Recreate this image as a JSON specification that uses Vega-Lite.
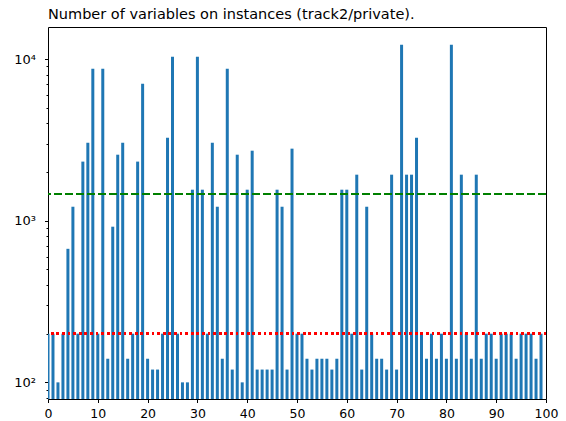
{
  "$schema": "https://vega.github.io/schema/vega-lite/v6.json",
  "width": 498,
  "height": 372,
  "autosize": {"type": "none"},
  "padding": {"left": 48, "top": 27, "right": 20, "bottom": 22},
  "background": "white",
  "title": {
    "text": "Number of variables on instances (track2/private).",
    "anchor": "start",
    "frame": "group",
    "font": "DejaVu Sans",
    "fontSize": 14.5,
    "fontWeight": "normal",
    "color": "#000000",
    "baseline": "alphabetic",
    "offset": -6.5
  },
  "config": {
    "view": {"stroke": "#000000", "strokeWidth": 1},
    "axis": {
      "labelFont": "DejaVu Sans",
      "labelFontSize": 12.5,
      "labelColor": "#000000",
      "tickColor": "#000000",
      "domain": false,
      "grid": false,
      "title": null
    }
  },
  "data": {
    "values": [
      {"i": 0, "v": 200}, {"i": 1, "v": 200}, {"i": 2, "v": 100}, {"i": 3, "v": 200}, {"i": 4, "v": 670},
      {"i": 5, "v": 1220}, {"i": 6, "v": 200}, {"i": 7, "v": 2320}, {"i": 8, "v": 3040}, {"i": 9, "v": 8720},
      {"i": 10, "v": 200}, {"i": 11, "v": 8720}, {"i": 12, "v": 140}, {"i": 13, "v": 918}, {"i": 14, "v": 2560},
      {"i": 15, "v": 3040}, {"i": 16, "v": 140}, {"i": 17, "v": 200}, {"i": 18, "v": 2320}, {"i": 19, "v": 7040},
      {"i": 20, "v": 140}, {"i": 21, "v": 120}, {"i": 22, "v": 120}, {"i": 23, "v": 200}, {"i": 24, "v": 3260},
      {"i": 25, "v": 10330}, {"i": 26, "v": 200}, {"i": 27, "v": 100}, {"i": 28, "v": 100}, {"i": 29, "v": 1555},
      {"i": 30, "v": 10330}, {"i": 31, "v": 1555}, {"i": 32, "v": 200}, {"i": 33, "v": 3040}, {"i": 34, "v": 1220},
      {"i": 35, "v": 140}, {"i": 36, "v": 8720}, {"i": 37, "v": 120}, {"i": 38, "v": 2560}, {"i": 39, "v": 100},
      {"i": 40, "v": 1555}, {"i": 41, "v": 2710}, {"i": 42, "v": 120}, {"i": 43, "v": 120}, {"i": 44, "v": 120},
      {"i": 45, "v": 120}, {"i": 46, "v": 1555}, {"i": 47, "v": 1220}, {"i": 48, "v": 120}, {"i": 49, "v": 2790},
      {"i": 50, "v": 200}, {"i": 51, "v": 200}, {"i": 52, "v": 140}, {"i": 53, "v": 120}, {"i": 54, "v": 140},
      {"i": 55, "v": 140}, {"i": 56, "v": 140}, {"i": 57, "v": 120}, {"i": 58, "v": 140}, {"i": 59, "v": 1555},
      {"i": 60, "v": 1555}, {"i": 61, "v": 200}, {"i": 62, "v": 1926}, {"i": 63, "v": 120}, {"i": 64, "v": 1220},
      {"i": 65, "v": 200}, {"i": 66, "v": 140}, {"i": 67, "v": 140}, {"i": 68, "v": 120}, {"i": 69, "v": 1926},
      {"i": 70, "v": 120}, {"i": 71, "v": 12270}, {"i": 72, "v": 1926}, {"i": 73, "v": 1926}, {"i": 74, "v": 3260},
      {"i": 75, "v": 200}, {"i": 76, "v": 140}, {"i": 77, "v": 200}, {"i": 78, "v": 140}, {"i": 79, "v": 200},
      {"i": 80, "v": 140}, {"i": 81, "v": 12270}, {"i": 82, "v": 140}, {"i": 83, "v": 1926}, {"i": 84, "v": 200},
      {"i": 85, "v": 140}, {"i": 86, "v": 1926}, {"i": 87, "v": 140}, {"i": 88, "v": 200}, {"i": 89, "v": 200},
      {"i": 90, "v": 140}, {"i": 91, "v": 200}, {"i": 92, "v": 200}, {"i": 93, "v": 200}, {"i": 94, "v": 140},
      {"i": 95, "v": 200}, {"i": 96, "v": 200}, {"i": 97, "v": 200}, {"i": 98, "v": 140}, {"i": 99, "v": 200}
    ]
  },
  "layer": [
    {
      "mark": {"type": "bar", "color": "#1f77b4", "size": 3, "clip": true},
      "encoding": {
        "x": {
          "field": "i",
          "type": "quantitative",
          "scale": {"domain": [0, 100], "nice": false, "zero": false, "padding": 0},
          "axis": {
            "values": [0, 10, 20, 30, 40, 50, 60, 70, 80, 90, 100],
            "tickSize": 3.5,
            "labelPadding": 4.5,
            "labelFlush": false,
            "labelOverlap": false
          }
        },
        "y": {
          "field": "v",
          "type": "quantitative",
          "scale": {"type": "log", "domain": [78.9, 15780], "nice": false},
          "axis": {
            "values": [80, 90, 100, 200, 300, 400, 500, 600, 700, 800, 900, 1000, 2000, 3000, 4000, 5000, 6000, 7000, 8000, 9000, 10000],
            "tickSize": {"condition": {"test": "datum.value == 100 || datum.value == 1000 || datum.value == 10000", "value": 3.5}, "value": 2},
            "labelExpr": "datum.value == 100 ? '10²' : datum.value == 1000 ? '10³' : datum.value == 10000 ? '10⁴' : ''",
            "labelFontSize": 13,
            "labelOverlap": false,
            "labelBound": false,
            "labelFlush": false,
            "labelPadding": 9
          }
        },
        "y2": {"datum": 78.9}
      }
    },
    {
      "mark": {"type": "rule", "color": "#008000", "strokeWidth": 1.8, "strokeDash": [8, 3]},
      "encoding": {"y": {"datum": 1462}}
    },
    {
      "mark": {"type": "rule", "color": "#ff0000", "strokeWidth": 1.8, "strokeDash": [2, 3.6]},
      "encoding": {"y": {"datum": 200}}
    }
  ]
}
